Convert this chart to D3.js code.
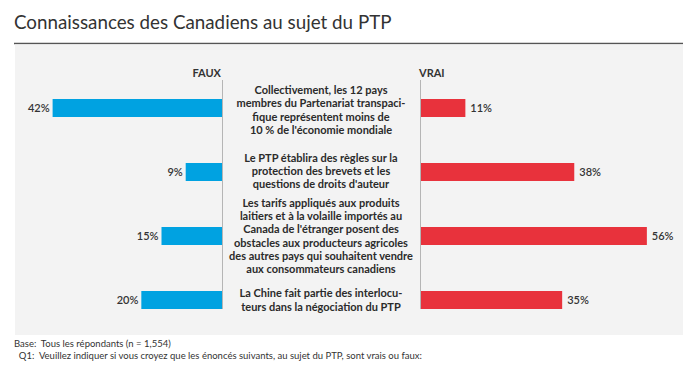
<!DOCTYPE html>
<html>
<head>
<meta charset="utf-8">
<script src="https://cdn.jsdelivr.net/npm/d3@7"></script>
<style>
  body { margin: 0; background: #fff; }
  svg text { font-family: Lato, "Open Sans", sans-serif; }
</style>
</head>
<body>
<div id="chart"></div>
<script>
// data
const categories = ["q1", "q2", "q3", "q4"];
const statements = [
  ["Collectivement, les 12 pays", "membres du Partenariat transpaci-", "fique représentent moins de", "10 % de l'économie mondiale"],
  ["Le PTP établira des règles sur la", "protection des brevets et les", "questions de droits d'auteur"],
  ["Les tarifs appliqués aux produits", "laitiers et à la volaille importés au", "Canada de l'étranger posent des", "obstacles aux producteurs agricoles", "des autres pays qui souhaitent vendre", "aux consommateurs canadiens"],
  ["La Chine fait partie des interlocu-", "teurs dans la négociation du PTP"]
];
const fauxValues = [42, 9, 15, 20];
const vraiValues = [11, 38, 56, 35];

const title = "Connaissances des Canadiens au sujet du PTP";
const footer = ["Base:  Tous les répondants (n = 1,554)",
  "  Q1:  Veuillez indiquer si vous croyez que les énoncés suivants, au sujet du PTP, sont vrais ou faux:"];

const width = 700, height = 375;
const svg = d3.select("#chart").append("svg")
  .attr("width", width).attr("height", height);

// title + rule
svg.append("text")
  .attr("x", 14).attr("y", 29)
  .style("font-size", "18.8px").style("fill", "#333")
  .text(title);
svg.append("line")
  .attr("x1", 14).attr("x2", 683).attr("y1", 43.5).attr("y2", 43.5)
  .attr("stroke", "#555").attr("stroke-width", 1.6);

// panel
svg.append("rect")
  .attr("x", 15).attr("y", 44.5).attr("width", 668).attr("height", 290.5)
  .attr("fill", "#f3f3f3");

const leftAxis = 222, rightAxis = 420;
const x = d3.scaleLinear().domain([0, 60]).range([0, 242]);
const y = d3.scalePoint().domain(categories).range([108, 300]);
const barH = 18;

// axis lines
[leftAxis, rightAxis].forEach(ax => {
  svg.append("line")
    .attr("x1", ax + 0.5).attr("x2", ax + 0.5).attr("y1", 80).attr("y2", 309)
    .attr("stroke", "#b5b5b5").attr("stroke-width", 1);
});

svg.append("text")
  .attr("x", leftAxis - 1).attr("y", 77)
  .attr("text-anchor", "end")
  .style("font-size", "11px").style("font-weight", "bold").style("fill", "#333")
  .text("FAUX");
svg.append("text")
  .attr("x", rightAxis - 1).attr("y", 77)
  .style("font-size", "11px").style("font-weight", "bold").style("fill", "#333")
  .text("VRAI");

// faux bars
svg.selectAll(".faux").data(categories).join("rect")
  .attr("class", "faux")
  .attr("x", (d, i) => leftAxis - x(fauxValues[i]))
  .attr("y", d => y(d) - barH / 2)
  .attr("width", (d, i) => x(fauxValues[i]))
  .attr("height", barH)
  .attr("fill", "#00a2e1");

svg.selectAll(".fauxLab").data(categories).join("text")
  .attr("class", "fauxLab")
  .attr("x", (d, i) => leftAxis - x(fauxValues[i]) - 3)
  .attr("y", d => y(d) + 4)
  .attr("text-anchor", "end")
  .style("font-size", "11px").style("font-weight", "600").style("fill", "#333")
  .text((d, i) => fauxValues[i] + "%");

// vrai bars
svg.selectAll(".vrai").data(categories).join("rect")
  .attr("class", "vrai")
  .attr("x", rightAxis + 1)
  .attr("y", d => y(d) - barH / 2)
  .attr("width", (d, i) => x(vraiValues[i]))
  .attr("height", barH)
  .attr("fill", "#e8323c");

svg.selectAll(".vraiLab").data(categories).join("text")
  .attr("class", "vraiLab")
  .attr("x", (d, i) => rightAxis + 1 + x(vraiValues[i]) + 5)
  .attr("y", d => y(d) + 4)
  .style("font-size", "11px").style("font-weight", "600").style("fill", "#333")
  .text((d, i) => vraiValues[i] + "%");

// statements in the middle
const lineH = 13.3;
const offsets = [2, -1, 0, 0];
categories.forEach((c, i) => {
  const lines = statements[i];
  const top = y(c) + offsets[i] - (lines.length - 1) * lineH / 2;
  const t = svg.append("text")
    .attr("text-anchor", "middle")
    .style("font-size", "11px").style("font-weight", "bold").style("fill", "#2b2b2b");
  lines.forEach((l, j) => {
    t.append("tspan").attr("x", 321).attr("y", top + j * lineH + 4).text(l);
  });
});

// footer
footer.forEach((f, i) => {
  svg.append("text")
    .attr("x", 14).attr("y", 347 + i * 11.5)
    .style("font-size", "9.5px").style("fill", "#333")
    .attr("xml:space", "preserve")
    .style("white-space", "pre")
    .text(f);
});
</script>
</body>
</html>
